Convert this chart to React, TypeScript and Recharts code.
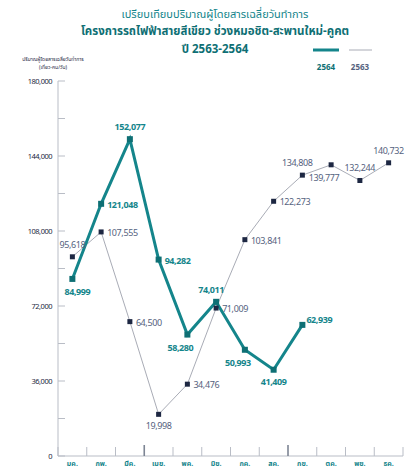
import { LineChart, Line, XAxis, YAxis, LabelList } from 'recharts'

const months = ['มค.', 'กพ.', 'มีค.', 'เมย.', 'พค.', 'มิย.', 'กค.', 'สค.', 'กย.', 'ตค.', 'พย.', 'ธค.']
const riders2564 = [84999, 121048, 152077, 94282, 58280, 74011, 50993, 41409, 62939, null, null, null]
const riders2563 = [95618, 107555, 64500, 19998, 34476, 71009, 103841, 122273, 134808, 139777, 132244, 140732]
const yTicks = [0, 18000, 36000, 54000, 72000, 90000, 108000, 126000, 144000, 162000, 180000]
const yLabelStep = 36000

// where each value label sits relative to its point
const place2564 = ['belowR', 'right', 'above', 'right', 'belowL', 'aboveL', 'belowL', 'below', 'rightUp']
const place2563 = ['above', 'right', 'right', 'below', 'right', 'right', 'right', 'right', 'aboveL', 'belowL', 'above', 'above']

const data = months.map((m, i) => ({ month: m, y2564: riders2564[i], y2563: riders2563[i] }))

const TEAL = '#14858b'
const TEAL_DARK = '#0e6f74'
const NAVY = '#1d2742'
const GREY_LINE = '#a9acb6'
const GREY_TEXT = '#55627e'
const AXIS = '#b9bdc6'
const FONT = '"Noto Sans Thai", "Noto Sans", "Open Sans", sans-serif'
const BAND = (403 - 58) / 12

const fmt = (v: number) => v.toLocaleString('en-US')

const offsets: Record<string, [number, number, 'start' | 'middle' | 'end']> = {
  above: [0, -9, 'middle'],
  aboveL: [-5, -9, 'middle'],
  below: [0, 15, 'middle'],
  belowR: [5, 16, 'middle'],
  belowL: [-7, 16, 'middle'],
  right: [6, 4, 'start'],
  rightUp: [4, -2, 'start'],
}

const makeLabel =
  (places: string[], color: string, weight: number) =>
  (props: any) => {
    const { x, y, value, index } = props
    if (value == null) return null
    const [dx, dy, anchor] = offsets[places[index]] || offsets.above
    return (
      <text
        x={x + dx}
        y={y + dy}
        textAnchor={anchor}
        fill={color}
        fontSize={9}
        fontWeight={weight}
        letterSpacing={-0.4}
        fontFamily={FONT}
      >
        {fmt(value)}
      </text>
    )
  }

const square =
  (color: string, size: number) =>
  (props: any) => {
    const { cx, cy, value, index } = props
    if (value == null || cx == null) return <g key={index} />
    return <rect key={index} x={cx - size / 2} y={cy - size / 2} width={size} height={size} fill={color} />
  }

const XTick = (props: any) => {
  const { x, y, payload, index } = props
  const left = x - BAND / 2
  const strong = index === 3 || index === 8
  return (
    <g>
      <line x1={left} y1={y} x2={left} y2={y - (strong ? 11 : 9)} stroke={strong ? '#7d8594' : AXIS} strokeWidth={strong ? 1.6 : 1} />
      {index === months.length - 1 && (
        <line x1={x + BAND / 2} y1={y} x2={x + BAND / 2} y2={y - 9} stroke={AXIS} />
      )}
      <text x={x} y={y + 10} textAnchor="middle" fill={TEAL} fontSize={7} fontWeight={700} fontFamily={FONT}>
        {payload.value}
      </text>
    </g>
  )
}

const YTick = (props: any) => {
  const { x, y, payload } = props
  const major = payload.value % yLabelStep === 0
  return (
    <g>
      <line x1={58} y1={y} x2={65} y2={y} stroke={AXIS} />
      {major && (
        <text x={x} y={y} dy="0.35em" textAnchor="end" fill={NAVY} fontSize={7.5} letterSpacing={-0.5} fontFamily={FONT}>
          {fmt(payload.value)}
        </text>
      )}
    </g>
  )
}

export default function App() {
  return (
    <div style={{ position: 'absolute', left: 0, top: 0, width: 420, height: 470, background: '#fff', overflow: 'hidden' }}>
      <div style={{ position: 'absolute', left: 0, top: 0, width: 430, textAlign: 'center', fontFamily: FONT, color: TEAL }}>
        <div style={{ position: 'absolute', top: 6, width: '100%', fontSize: 11, fontWeight: 400 }}>
          เปรียบเทียบปริมาณผู้โดยสารเฉลี่ยวันทำการ
        </div>
        <div style={{ position: 'absolute', top: 23, width: '100%', fontSize: 11.5, fontWeight: 700, color: TEAL_DARK }}>
          โครงการรถไฟฟ้าสายสีเขียว ช่วงหมอชิต-สะพานใหม่-คูคต
        </div>
        <div style={{ position: 'absolute', top: 41, width: '100%', fontSize: 11.5, fontWeight: 700, color: TEAL_DARK }}>
          ปี 2563-2564
        </div>
      </div>
      <div style={{ position: 'absolute', left: 18, top: 56, width: 70, textAlign: 'center', fontFamily: FONT, fontSize: 5, lineHeight: '8px', color: NAVY }}>
        ปริมาณผู้โดยสารเฉลี่ยวันทำการ
        <br />
        (เที่ยว-คน/วัน)
      </div>
      <svg style={{ position: 'absolute', left: 0, top: 0 }} width={420} height={80}>
        <line x1={313} y1={50} x2={339} y2={50} stroke={TEAL} strokeWidth={3} />
        <line x1={349} y1={50} x2={372} y2={50} stroke={GREY_LINE} strokeWidth={1} />
        <text x={326} y={70} textAnchor="middle" fill={TEAL_DARK} fontSize={8} fontWeight={700} fontFamily={FONT}>2564</text>
        <text x={360} y={70} textAnchor="middle" fill={GREY_TEXT} fontSize={8} fontWeight={700} fontFamily={FONT}>2563</text>
      </svg>
      <div style={{ position: 'absolute', left: 0, top: 0 }}>
        <LineChart width={420} height={470} data={data} margin={{ top: 81, right: 17, bottom: 0, left: 0 }}>
          <XAxis
            dataKey="month"
            height={14}
            padding={{ left: BAND / 2, right: BAND / 2 }}
            axisLine={{ stroke: AXIS }}
            tickLine={false}
            tickSize={0}
            tickMargin={0}
            interval={0}
            tick={<XTick />}
          />
          <YAxis
            width={58}
            domain={[0, 180000]}
            ticks={yTicks}
            interval={0}
            axisLine={{ stroke: AXIS }}
            tickLine={false}
            tickSize={0}
            tickMargin={6}
            tick={<YTick />}
          />
          <Line
            dataKey="y2563"
            stroke={GREY_LINE}
            strokeWidth={1}
            dot={square(NAVY, 5)}
            activeDot={false}
            isAnimationActive={false}
          >
            <LabelList dataKey="y2563" content={makeLabel(place2563, GREY_TEXT, 400)} />
          </Line>
          <Line
            dataKey="y2564"
            stroke={TEAL}
            strokeWidth={3}
            dot={square(TEAL_DARK, 6)}
            activeDot={false}
            connectNulls={false}
            isAnimationActive={false}
          >
            <LabelList dataKey="y2564" content={makeLabel(place2564, TEAL, 700)} />
          </Line>
        </LineChart>
      </div>
    </div>
  )
}
